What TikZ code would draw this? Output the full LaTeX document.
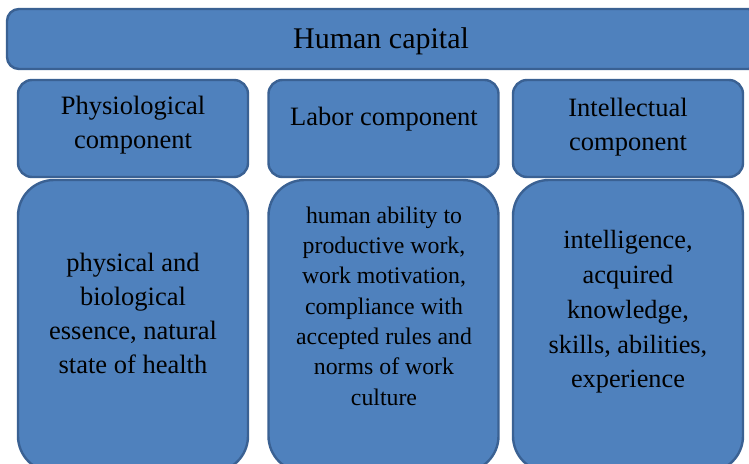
\documentclass[tikz,border=0pt]{standalone}
\usepackage{fontspec}
\setmainfont{Liberation Serif}
\definecolor{boxfill}{HTML}{4F81BD}
\definecolor{boxline}{HTML}{3A6193}

\begin{document}
\begin{tikzpicture}[x=1pt, y=-1pt,
  head/.style={draw=boxline, line width=2.4pt, fill=boxfill, rounded corners=14pt, minimum width=230pt, minimum height=97pt, inner sep=0pt},
  body/.style={draw=boxline, line width=2.4pt, fill=boxfill, rounded corners=36pt, minimum width=230pt, minimum height=292pt, inner sep=0pt},
  txt/.style={align=center, inner sep=0pt, font=\fontsize{26.5}{34}\selectfont}]
\clip (0,0) rectangle (749,463);
% top bar
\node[head, minimum width=753pt, minimum height=60pt, rounded corners=12pt] (HC) at (383.5,39) {};
\node[txt, font=\fontsize{30}{33}\selectfont] (HCt) at (381,41) {Human capital};
% three components
\node[head] (P) at (133,128.5) {};
\node[head] (L) at (383.5,128.5) {};
\node[head] (I) at (628,128.5) {};
\node[txt] (Pt) at (133,125) {Physiological\\component};
\node[txt] (Lt) at (384,119) {Labor component};
\node[txt] (It) at (628,127) {Intellectual\\component};
% descriptions
\node[body] (Pb) at (133,326) {};
\node[body] (Lb) at (383.5,326) {};
\node[body] (Ib) at (628,326) {};
\node[txt] (Pd) at (133,313) {physical and\\biological\\essence, natural\\state of health};
\node[txt, font=\fontsize{23.8}{30.3}\selectfont] (Ld) at (384,306) {human ability to\\productive work,\\work motivation,\\compliance with\\accepted rules and\\norms of work\\culture};
\node[txt, font=\fontsize{26.3}{34.7}\selectfont] (Id) at (628,312) {intelligence,\\acquired\\knowledge,\\skills, abilities,\\experience};
\end{tikzpicture}
\end{document}
